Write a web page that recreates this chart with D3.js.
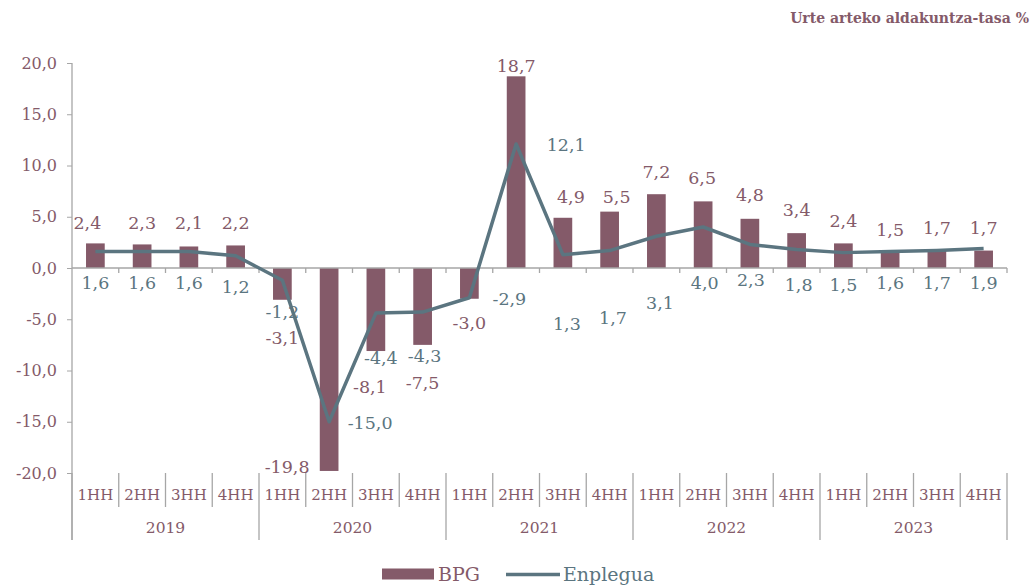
<!DOCTYPE html>
<html><head><meta charset="utf-8">
<script src="https://cdn.jsdelivr.net/npm/d3@7"></script>
<style>body{margin:0;background:#fff}svg{display:block}text{font-family:"DejaVu Serif",serif}</style>
</head><body><svg id="c" width="1031" height="586"></svg>
<script>
const years = ["2019","2020","2021","2022","2023"];
const quarters = ["1HH","2HH","3HH","4HH"];
const bpg = [2.4,2.3,2.1,2.2,-3.1,-19.8,-8.1,-7.5,-3.0,18.7,4.9,5.5,7.2,6.5,4.8,3.4,2.4,1.5,1.7,1.7];
const enplegua = [1.6,1.6,1.6,1.2,-1.2,-15.0,-4.4,-4.3,-2.9,12.1,1.3,1.7,3.1,4.0,2.3,1.8,1.5,1.6,1.7,1.9];
const yTicks = [-20,-15,-10,-5,0,5,10,15,20];
const seriesNames = ["BPG","Enplegua"];
const title = "Urte arteko aldakuntza-tasa %";

// layout: label offsets in pixels (dx, dy) relative to each mark's anchor
const bpgLabelOff = [[-8,-21],[0,-22],[0,-24],[0,-23],[0,38],[-42,-4],[-6,36],[0,38],[0,24],[0,-10],
  [8,-21],[7,-15],[0,-22],[-1,-24],[0,-24],[0,-23],[0,-23],[0,-23],[0,-23],[0,-23]];
const empLabelOff = [[0,31.5],[0,31.5],[0,31.5],[0,31.6],[0,31.4],[41,1],[5,45],[2,43.6],[40,1],[50,1],
  [4,69],[3.4,67.4],[3.6,66.8],[1.6,56],[1,35.6],[2,35.5],[0,32.4],[0,31.7],[0,32.4],[0,34.5]];

const C_BAR = "#845a69", C_LINE = "#5b7580", C_AXIS = "#a6a6a6", C_TXT = "#845a69";
const cats = [];
years.forEach(y => quarters.forEach(q => cats.push(y + "-" + q)));

const svg = d3.select("#c");
const x = d3.scaleBand().domain(cats).range([72, 1007]).paddingInner(0).paddingOuter(0);
const y = d3.scaleLinear().domain([-20, 20]).range([473, 63]);
const bw = x.bandwidth() * 0.4;
const cx = i => x(cats[i]) + x.bandwidth() / 2;

// title
svg.append("text").attr("x", 1029).attr("y", 18).attr("dy", "0.35em").attr("text-anchor", "end")
  .attr("font-size", 14).attr("font-weight", "bold").attr("fill", C_TXT).text(title);

// y axis
const yAxis = d3.axisLeft(y).tickValues(yTicks).tickSize(5).tickPadding(10)
  .tickFormat(d => d3.format(".1f")(d).replace(".", ",").replace("−", "-"));
const gy = svg.append("g").attr("transform", "translate(72,0)").call(yAxis);
gy.select(".domain").remove();
gy.selectAll("line").attr("stroke", C_AXIS);
gy.selectAll("text").attr("font-size", 16).attr("fill", C_TXT).attr("font-family", "DejaVu Serif");
svg.append("line").attr("x1", 72).attr("x2", 72).attr("y1", y(20)).attr("y2", 540).attr("stroke", C_AXIS).attr("stroke-width", 1.3);

// bars
svg.append("g").selectAll("rect").data(bpg).join("rect")
  .attr("x", (d, i) => cx(i) - bw / 2).attr("width", bw)
  .attr("y", d => Math.min(y(d), y(0))).attr("height", d => Math.abs(y(d) - y(0)))
  .attr("fill", C_BAR);

// zero axis line with ticks
svg.append("line").attr("x1", 72).attr("x2", 1007).attr("y1", y(0)).attr("y2", y(0)).attr("stroke", C_AXIS).attr("stroke-width", 1.3);
const bounds = cats.map(c => x(c)).concat([1007]);
svg.append("g").selectAll("line").data(bounds.slice(1)).join("line")
  .attr("x1", d => d).attr("x2", d => d).attr("y1", y(0)).attr("y2", y(0) + 5).attr("stroke", C_AXIS).attr("stroke-width", 1.3);

// line
svg.append("path").datum(enplegua)
  .attr("d", d3.line().x((d, i) => cx(i)).y(d => y(d)))
  .attr("fill", "none").attr("stroke", C_LINE).attr("stroke-width", 3.5).attr("stroke-linejoin", "round");

// data labels
const fmt = v => d3.format(".1f")(v).replace(".", ",").replace("−", "-");
svg.append("g").selectAll("text").data(bpg).join("text")
  .attr("x", (d, i) => cx(i) + bpgLabelOff[i][0]).attr("y", (d, i) => y(d) + bpgLabelOff[i][1])
  .attr("dy", "0.35em").attr("text-anchor", "middle").attr("font-size", 17.5).attr("fill", C_BAR).text(fmt);
svg.append("g").selectAll("text").data(enplegua).join("text")
  .attr("x", (d, i) => cx(i) + empLabelOff[i][0]).attr("y", (d, i) => y(d) + empLabelOff[i][1])
  .attr("dy", "0.35em").attr("text-anchor", "middle").attr("font-size", 17.5).attr("fill", C_LINE).text(fmt);

// multi-level category axis
const gq = svg.append("g");
gq.selectAll("line").data(bounds).join("line")
  .attr("x1", d => d).attr("x2", d => d).attr("y1", 473)
  .attr("y2", (d, i) => (i % quarters.length === 0) ? 540 : 507)
  .attr("stroke", C_AXIS).attr("stroke-width", 1.3);
gq.selectAll("text.q").data(cats).join("text").attr("class", "q")
  .attr("x", (d, i) => cx(i)).attr("y", 495).attr("dy", "0.35em").attr("text-anchor", "middle")
  .attr("font-size", 15).attr("fill", C_TXT).text(d => d.split("-")[1]);
gq.selectAll("text.yr").data(years).join("text").attr("class", "yr")
  .attr("x", (d, i) => (x(d + "-" + quarters[0]) + x(d + "-" + quarters[quarters.length - 1]) + x.bandwidth()) / 2)
  .attr("y", 528).attr("dy", "0.35em").attr("text-anchor", "middle")
  .attr("font-size", 15.5).attr("fill", C_TXT).text(d => d);

// legend
const lg = svg.append("g");
lg.append("rect").attr("x", 382).attr("y", 568.5).attr("width", 52).attr("height", 11).attr("fill", C_BAR);
lg.append("text").attr("x", 438).attr("y", 574).attr("dy", "0.35em").attr("font-size", 19).attr("fill", C_BAR).text(seriesNames[0]);
lg.append("line").attr("x1", 506).attr("x2", 560).attr("y1", 574.5).attr("y2", 574.5).attr("stroke", C_LINE).attr("stroke-width", 3.5);
lg.append("text").attr("x", 563).attr("y", 574).attr("dy", "0.35em").attr("font-size", 19).attr("fill", C_LINE).text(seriesNames[1]);
</script></body></html>
